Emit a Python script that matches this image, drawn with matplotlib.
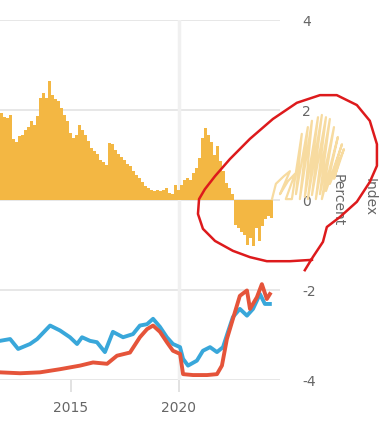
import numpy as np
import matplotlib.pyplot as plt

# yellow bars (percent), one every ~1.7 months
bar_start = 2011.78
bar_step = 0.139
bar_values = [1.93, 1.85, 1.82, 1.88, 1.35, 1.30, 1.42, 1.45, 1.56, 1.62,
              1.75, 1.67, 1.87, 2.27, 2.38, 2.27, 2.64, 2.33, 2.25, 2.20,
              2.05, 1.90, 1.75, 1.50, 1.38, 1.45, 1.67, 1.55, 1.45, 1.32,
              1.15, 1.08, 1.02, 0.90, 0.84, 0.78, 1.27, 1.25, 1.12, 1.02,
              0.96, 0.88, 0.80, 0.75, 0.64, 0.56, 0.49, 0.40, 0.31, 0.27,
              0.23, 0.20, 0.22, 0.20, 0.23, 0.27, 0.16, 0.13, 0.34, 0.22,
              0.34, 0.45, 0.49, 0.45, 0.60, 0.71, 0.93, 1.38, 1.60, 1.45,
              1.30, 1.00, 1.19, 0.86, 0.64, 0.38, 0.27, 0.13, -0.55, -0.62,
              -0.70, -0.78, -1.00, -0.85, -1.02, -0.62, -0.90, -0.58, -0.42, -0.36,
              -0.40]

# blue index line
blue_x = [2011.71, 2012.18, 2012.55, 2013.10, 2013.43, 2014.03, 2014.49, 2014.95,
          2015.28, 2015.51, 2015.88, 2016.20, 2016.57, 2016.94, 2017.41, 2017.87,
          2018.19, 2018.52, 2018.80, 2019.12, 2019.44, 2019.72, 2020.05, 2020.19,
          2020.42, 2020.83, 2021.11, 2021.44, 2021.76, 2022.04, 2022.27, 2022.50,
          2022.82, 2023.15, 2023.43, 2023.75, 2023.98, 2024.21]
blue_y = [-3.13, -3.09, -3.31, -3.20, -3.09, -2.79, -2.90, -3.05,
          -3.20, -3.05, -3.13, -3.16, -3.38, -2.93, -3.05, -2.98,
          -2.79, -2.76, -2.64, -2.82, -3.05, -3.20, -3.27, -3.53,
          -3.68, -3.57, -3.35, -3.27, -3.38, -3.27, -2.93, -2.60,
          -2.42, -2.57, -2.42, -2.09, -2.31, -2.31]

# red index line
red_x = [2011.71, 2012.64, 2013.56, 2014.49, 2015.42, 2016.02, 2016.67, 2017.13,
         2017.73, 2018.19, 2018.52, 2018.80, 2019.12, 2019.44, 2019.72, 2020.05,
         2020.19, 2020.65, 2021.30, 2021.76, 2021.99, 2022.22, 2022.50, 2022.82,
         2023.15, 2023.29, 2023.61, 2023.84, 2024.07, 2024.21]
red_y = [-3.83, -3.85, -3.83, -3.76, -3.68, -3.61, -3.64, -3.46,
         -3.39, -3.05, -2.87, -2.79, -2.93, -3.16, -3.35, -3.42,
         -3.87, -3.89, -3.89, -3.87, -3.68, -3.09, -2.64, -2.13,
         -2.01, -2.42, -2.16, -1.87, -2.20, -2.09]

# hand-drawn red loop round the right end
loop_x = [2026.16, 2025.14, 2024.07, 2023.29, 2022.50, 2021.67, 2021.11, 2020.88,
          2020.93, 2021.20, 2021.67, 2022.36, 2023.29, 2024.35, 2025.46, 2026.53,
          2027.31, 2028.24, 2028.84, 2029.17, 2029.17, 2028.84, 2028.24, 2027.45,
          2026.85, 2026.67, 2026.20, 2025.83]
loop_y = [-1.33, -1.36, -1.36, -1.27, -1.13, -0.91, -0.64, -0.31,
          0.02, 0.24, 0.53, 0.91, 1.36, 1.80, 2.16, 2.33,
          2.33, 2.11, 1.76, 1.24, 0.76, 0.40, -0.04, -0.38,
          -0.60, -0.93, -1.27, -1.56]

# pale yellow scribble
scribble_x = [2024.31, 2024.49, 2024.86, 2025.14, 2024.68, 2025.05, 2025.37, 2024.95,
              2025.23, 2025.69, 2025.42, 2025.97, 2025.60, 2026.16, 2025.83, 2026.44,
              2025.97, 2026.62, 2026.16, 2026.81, 2026.34, 2026.99, 2026.53, 2027.18,
              2026.62, 2027.36, 2026.81, 2027.55, 2026.99, 2027.64, 2027.18, 2027.45]
scribble_y = [0.02, 0.36, 0.53, 0.64, 0.13, 0.42, 0.58, 0.02,
              0.02, 1.47, 0.13, 1.62, 0.02, 1.76, 0.07, 1.84,
              0.02, 1.89, 0.11, 1.84, 0.02, 1.80, 0.13, 1.62,
              0.02, 1.40, 0.20, 1.24, 0.36, 1.13, 0.47, 0.91]

y_ticks = [-4, -2, 0, 2, 4]
x_ticks = [2015, 2020]

fig = plt.figure(figsize=(3.84, 4.35), dpi=100)
ax = fig.add_axes([0, 54 / 435, 280 / 384, 360 / 435])

grey = '#666666'

for v in y_ticks:
    ax.axhline(v, color='#e3e3e3', lw=1.2, zorder=0)
ax.axvline(2020, color='#f0f0f0', lw=2.5, zorder=0)

bar_x = bar_start + bar_step * np.arange(len(bar_values))
ax.bar(bar_x, bar_values, width=bar_step * 0.8, color='#f3b743', zorder=2)

ax.plot(blue_x, blue_y, color='#39a7da', lw=2.8, zorder=3)
ax.plot(red_x, red_y, color='#e5543a', lw=2.8, zorder=4)

ax.plot(scribble_x, scribble_y, color='#f7dba0', lw=1.6, zorder=5, clip_on=False)
ax.plot(loop_x, loop_y, color='#dd1a1c', lw=1.8, zorder=6, clip_on=False)

ax.set_xlim(2011.71, 2024.68)
ax.set_ylim(-4, 4)

ax.yaxis.tick_right()
ax.set_yticks(y_ticks)
ax.set_yticklabels([str(v) for v in y_ticks])
ax.tick_params(axis='y', length=0, pad=16, labelsize=10, labelcolor=grey)

ax.set_xticks(x_ticks)
ax.set_xticklabels([str(v) for v in x_ticks])
ax.tick_params(axis='x', length=8.5, width=1.2, color='#dddddd', pad=6,
               labelsize=10, labelcolor=grey)

for s in ax.spines.values():
    s.set_visible(False)

ax.text(1.207, 0.503, 'Percent', transform=ax.transAxes, rotation=270,
        ha='center', va='center', fontsize=10, color=grey)
ax.text(1.32, 0.51, 'Index', transform=ax.transAxes, rotation=270,
        ha='center', va='center', fontsize=10, color=grey)

fig.savefig('out.png', dpi=100)
